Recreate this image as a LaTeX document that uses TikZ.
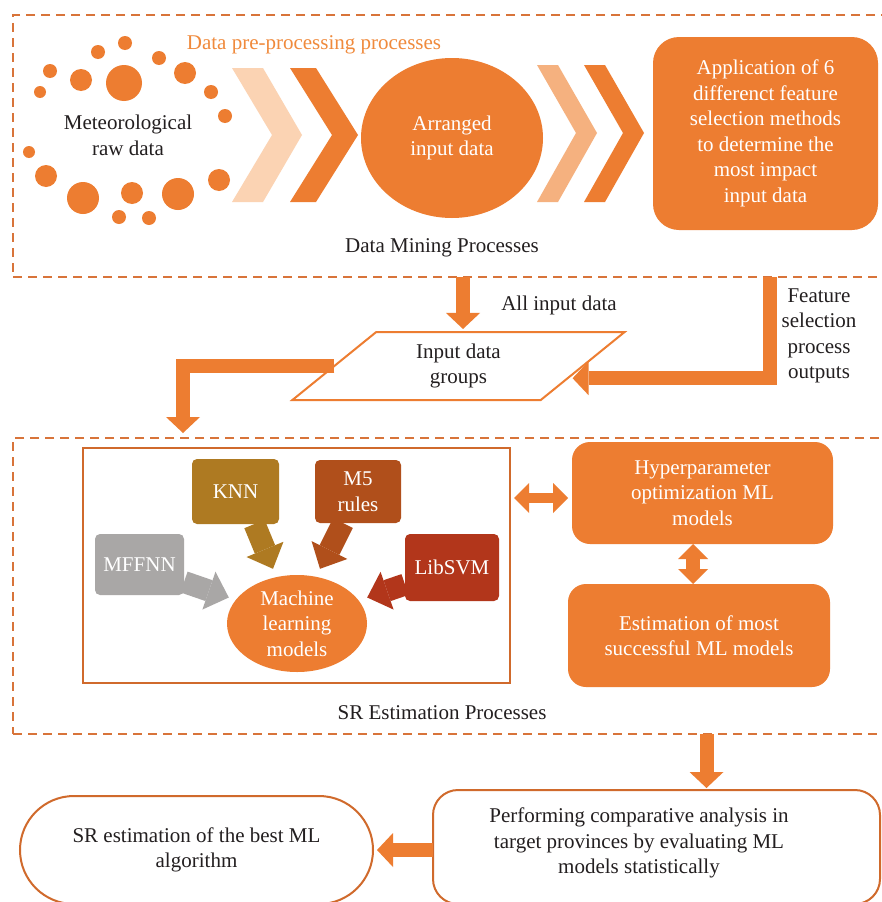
\documentclass[tikz,border=0pt]{standalone}
\usepackage{fontspec}
\setmainfont{Liberation Serif}
\usetikzlibrary{shapes.geometric,arrows.meta,calc}
\definecolor{org}{HTML}{ED7D31}
\definecolor{dsh}{HTML}{D8743A}
\definecolor{lt1}{HTML}{FBD3B3}
\definecolor{lt2}{HTML}{F5B17F}
\definecolor{txtc}{HTML}{231F20}
\definecolor{knnc}{HTML}{AE7A22}
\definecolor{m5c}{HTML}{B04F1B}
\definecolor{mffc}{HTML}{A9A7A6}
\definecolor{libc}{HTML}{B2361B}
\definecolor{ttl}{HTML}{F08A3C}
\definecolor{edg}{HTML}{D06A2C}
\newcommand\fsz{\fontsize{21}{25.5}\selectfont}
\begin{document}
\begin{tikzpicture}[x=1pt,y=-1pt,
  txt/.style={font=\fsz, text=txtc, align=center, inner sep=0pt},
  wtxt/.style={font=\fsz, text=white, align=center},
  dashbox/.style={draw=dsh, line width=2.2pt, dash pattern=on 9pt off 6pt, inner sep=0pt, outer sep=0pt, anchor=north west},
  fillbox/.style={fill=org, rounded corners=#1, wtxt, inner sep=0pt, outer sep=0pt},
  mlbox/.style={fill=#1, rounded corners=5pt, wtxt, inner sep=0pt, outer sep=0pt},
  linebox/.style={draw=edg, line width=2pt, txt, outer sep=0pt},
  fat/.style={draw=org, line width=14pt, line cap=butt, line join=miter, -{Triangle[width=34pt,length=16pt,line width=0pt]}},
  mlarrow/.style={draw=#1, line width=22pt, line cap=butt, -{Triangle[width=40pt,length=21pt,line width=0pt]}},
  dbl/.style={draw=org, line width=#1, {Triangle[width=30pt,length=15pt,line width=0pt]}-{Triangle[width=30pt,length=15pt,line width=0pt]}}
]
\useasboundingbox (0,0) rectangle (881,902);
\fill[white] (0,0) rectangle (881,902);

% ---------- Data mining section ----------
\node[dashbox, minimum width=885pt, minimum height=262pt] (dm) at (13,15) {};

\foreach \x/\y/\r in {125/43/7, 98/52/7, 159/58/7, 50/71/7, 81/80/11, 124/83/18,
  185/73/11, 40/92/6, 211/92/7, 225/116/7, 29/152/6, 46/176/11, 83/198/16,
  132/193/11, 178/194/16, 219/180/11, 119/217/7, 149/218/7}
  \fill[org] (\x,\y) circle[radius=\r pt];

\node[txt] (raw) at (128,135.5) {Meteorological\\raw data};
\node[txt, text=ttl] (pre) at (314,45) {Data pre-processing processes};

\fill[lt1] (232,68) -- (263,68) -- (302,135) -- (263,202) -- (232,202) -- (272,135) -- cycle;
\fill[org] (290,68) -- (316,68) -- (358,135) -- (316,202) -- (290,202) -- (332,135) -- cycle;
\fill[lt2] (537,65) -- (558,65) -- (597,133) -- (558,202) -- (537,202) -- (576,133) -- cycle;
\fill[org] (584,65) -- (605,65) -- (644,133) -- (605,202) -- (584,202) -- (623,133) -- cycle;

\node[ellipse, fill=org, wtxt, minimum width=182pt, minimum height=160pt, inner sep=0pt] (arr) at (452,138) {Arranged\\input data};
\node[fillbox=26pt, minimum width=225pt, minimum height=193pt] (app) at (765.5,133.5)
  {Application of 6\\differenct feature\\selection methods\\to determine the\\most impact\\input data};
\node[txt] (dmt) at (442,248) {Data Mining Processes};

% ---------- Input data groups ----------
\node[trapezium, trapezium left angle=46, trapezium right angle=134, trapezium stretches=true,
  draw=org, line width=2pt, minimum width=333pt, minimum height=68pt, inner sep=0pt, outer sep=0pt,
  txt] (par) at (458.5,366) {Input data\\groups};
\node[txt] (allt) at (559,305) {All input data};
\node[txt] (fst) at (819,336) {Feature\\selection\\process\\outputs};

% ---------- SR estimation section ----------
\node[dashbox, minimum width=885pt, minimum height=296pt] (sr) at (13,438) {};
\node[draw=edg, line width=2pt, minimum width=427pt, minimum height=235pt, inner sep=0pt, outer sep=0pt] (mlb) at (296.5,565.5) {};

\node[mlbox=knnc, minimum width=87pt, minimum height=65pt] (knn) at (235.5,491.5) {KNN};
\node[mlbox=m5c, minimum width=86pt, minimum height=63pt] (m5) at (358,491.5) {M5\\rules};
\node[mlbox=mffc, minimum width=89pt, minimum height=61pt] (mff) at (139.5,564.5) {MFFNN};
\node[mlbox=libc, minimum width=94pt, minimum height=67pt] (lib) at (452,567.5) {LibSVM};
\node[ellipse, fill=org, wtxt, minimum width=140pt, minimum height=97pt, inner sep=0pt] (ml) at (297,623.5) {Machine\\learning\\models};

\node[fillbox=18pt, minimum width=261pt, minimum height=102pt] (hyp) at (702.5,493) {Hyperparameter\\optimization ML\\models};
\node[fillbox=18pt, minimum width=262pt, minimum height=103pt] (est) at (699,635.5) {Estimation of most\\successful ML models};
\node[txt] (srt) at (442,713) {SR Estimation Processes};

% ---------- bottom ----------
\node[linebox, rounded corners=25pt, minimum width=447pt, minimum height=114pt] (perf) at (656.5,847) {};
\node[txt] (perft) at (639,843) {Performing comparative analysis in\\target provinces by evaluating ML\\models statistically};
\node[linebox, rounded corners=54pt, minimum width=353pt, minimum height=108pt] (stad) at (196.5,850) {SR estimation of the best ML\\algorithm};

% ---------- connectors ----------
\draw[fat] ([xshift=4.5pt]dm.south -| par.north) -- ([xshift=4.5pt,yshift=3pt]par.north);
\draw[fat] (dm.south -| 770,0) |- ($(par.bottom right corner)!0.32!(par.top right corner)+(5,0)$);
\draw[fat] (par.west) -| ([yshift=5pt]sr.north -| 183,0);

\draw[mlarrow=knnc] ([xshift=19pt]knn.south) -- ([xshift=-24pt,yshift=6pt]ml.north);
\draw[mlarrow=m5c] ([xshift=-15pt]m5.south) -- ([xshift=23pt,yshift=6pt]ml.north);
\draw[mlarrow=mffc] ([yshift=13pt]mff.south east) -- ([xshift=2pt,yshift=26pt]ml.west);
\draw[mlarrow=libc] ([yshift=-17pt]lib.west) -- ([yshift=26pt]ml.east);

\draw[dbl=10pt] ([xshift=4pt,yshift=-5pt]mlb.east |- hyp.west) -- ([xshift=-4pt,yshift=-5pt]hyp.west);
\draw[dbl=14pt] ([xshift=-6pt]hyp.south -| est.north) -- ([xshift=-6pt]est.north);

\draw[fat] ([xshift=50pt]sr.south -| perf.north) -- ([xshift=50pt,yshift=2pt]perf.north);
\draw[fat] ([yshift=-3pt]perf.west) -- ([xshift=4pt,yshift=-3pt]perf.west -| stad.east);
\end{tikzpicture}
\end{document}
